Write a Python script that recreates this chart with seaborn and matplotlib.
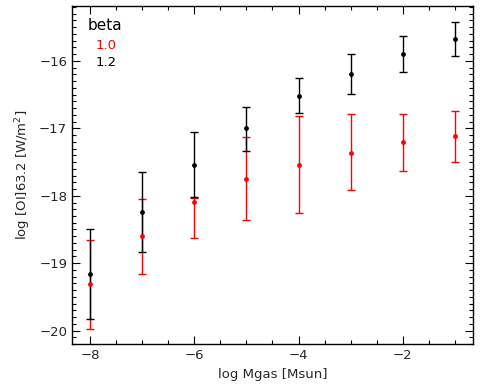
import matplotlib
matplotlib.use("Agg")
import matplotlib.pyplot as plt
import seaborn as sns
import pandas as pd
import numpy as np
from matplotlib.ticker import MultipleLocator

log_mgas = [-8, -7, -6, -5, -4, -3, -2, -1]

# beta = 1.0 (red)
red_val = [-19.31, -18.60, -18.09, -17.75, -17.55, -17.36, -17.21, -17.12]
red_hi = [-18.66, -18.05, -18.04, -17.13, -16.82, -16.79, -16.79, -16.74]
red_lo = [-19.97, -19.16, -18.63, -18.36, -18.26, -17.92, -17.64, -17.50]

# beta = 1.2 (black)
blk_val = [-19.16, -18.24, -17.55, -17.00, -16.52, -16.19, -15.90, -15.67]
blk_hi = [-18.50, -17.65, -17.05, -16.68, -16.26, -15.90, -15.63, -15.42]
blk_lo = [-19.82, -18.84, -18.02, -17.33, -16.78, -16.49, -16.17, -15.93]

sns.set_style("ticks")
plt.rcParams['font.family'] = ['DejaVu Sans']

fig = plt.figure(figsize=(4.8, 3.92), dpi=100)
ax = fig.add_axes([0.15, 0.122, 0.835, 0.863])

series = [("1.0", "#ff0000", red_val, red_hi, red_lo),
          ("1.2", "#000000", blk_val, blk_hi, blk_lo)]
for name, col, val, hi, lo in series:
    val = np.array(val); hi = np.array(hi); lo = np.array(lo)
    ax.errorbar(log_mgas, val, yerr=[val - lo, hi - val], fmt='none',
                ecolor=col, elinewidth=1.0, capsize=3, capthick=1.0)
    df = pd.DataFrame({"x": log_mgas, "y": val})
    sns.scatterplot(data=df, x="x", y="y", color=col, s=12, edgecolor=col,
                    linewidth=0, ax=ax, zorder=3)

ax.set_xlim(-8.345, -0.657)
ax.set_ylim(-20.2, -15.185)
ax.xaxis.set_major_locator(MultipleLocator(2))
ax.xaxis.set_minor_locator(MultipleLocator(0.5))
ax.yaxis.set_major_locator(MultipleLocator(1))
ax.yaxis.set_minor_locator(MultipleLocator(0.1))
ax.tick_params(which='both', direction='in', top=True, right=True,
               labelsize=9.5, color='black')
ax.tick_params(which='major', length=6, width=0.8)
ax.tick_params(which='minor', length=3, width=0.8)
for sp in ax.spines.values():
    sp.set_linewidth(1.0)
    sp.set_color('black')

ax.set_xlabel("log Mgas [Msun]", fontsize=9.5)
ax.set_ylabel("log [OI]63.2 [W/m$^2$]", fontsize=9.5)

ax.text(0.04, 0.941, "beta", transform=ax.transAxes, fontsize=11, color='black', va='center')
ax.text(0.06, 0.882, "1.0", transform=ax.transAxes, fontsize=9.5, color='#ff0000', va='center')
ax.text(0.06, 0.833, "1.2", transform=ax.transAxes, fontsize=9.5, color='black', va='center')

fig.savefig("out.png", dpi=100)
